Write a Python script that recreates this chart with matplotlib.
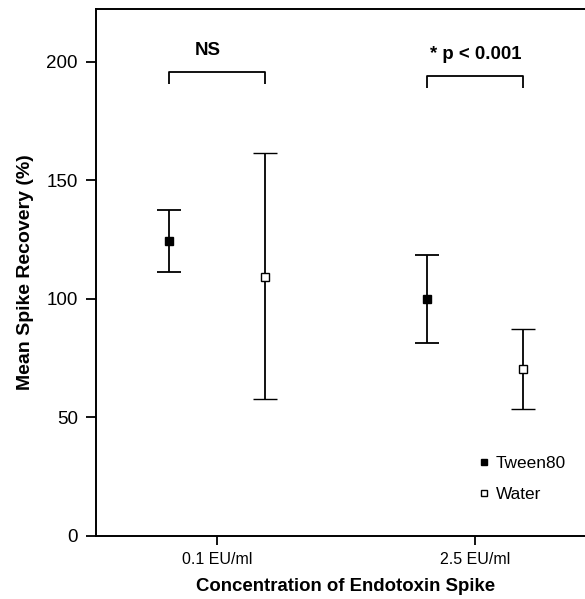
import matplotlib
matplotlib.use('Agg')
import matplotlib.pyplot as plt
from matplotlib.lines import Line2D

# data
categories = ['0.1 EU/ml', '2.5 EU/ml']
tween_mean = [124.5, 100.0]
tween_low = [111.4, 81.4]
tween_high = [137.4, 118.4]
water_mean = [109.3, 70.3]
water_low = [57.7, 53.6]
water_high = [161.3, 87.1]
sig_labels = ['NS', '* p < 0.001']
bracket_top = [195.5, 194.0]

plt.rcParams['font.family'] = ['Liberation Sans', 'DejaVu Sans']

fig = plt.figure(figsize=(5.85, 5.99), dpi=100)
ax = fig.add_axes([0.1641, 0.1057, 0.8547, 0.879])

xpos = [1, 2]
off = 0.185
x_t = [x - off for x in xpos]
x_w = [x + off for x in xpos]

err_t = [[m - lo for m, lo in zip(tween_mean, tween_low)],
         [hi - m for m, hi in zip(tween_mean, tween_high)]]
err_w = [[m - lo for m, lo in zip(water_mean, water_low)],
         [hi - m for m, hi in zip(water_mean, water_high)]]

ax.errorbar(x_t, tween_mean, yerr=err_t, fmt='s', color='black', mfc='black',
            mec='black', ms=5.5, elinewidth=1.3, capsize=8.4, capthick=1.3, zorder=3)
ax.errorbar(x_w, water_mean, yerr=err_w, fmt='s', color='black', mfc='white',
            mec='black', ms=5.5, mew=1.0, elinewidth=1.3, capsize=8.4, capthick=1.3, zorder=3)

# significance brackets
for i in range(len(xpos)):
    top = bracket_top[i]
    ax.plot([x_t[i], x_t[i], x_w[i], x_w[i]], [top - 5, top, top, top - 5],
            color='black', lw=1.3, solid_capstyle='butt')
    ax.text(xpos[i] - 0.035 if i == 0 else xpos[i], top + 9.2, sig_labels[i],
            ha='center', va='center', fontsize=13.4, fontweight='bold')

ax.set_xlim(0.533, 2.467)
ax.set_ylim(0, 222.2)
ax.set_yticks([0, 50, 100, 150, 200])
ax.set_xticks(xpos)
ax.set_xticklabels(categories)

ax.tick_params(axis='y', direction='out', length=7, width=1.3, labelsize=13.5, pad=6)
ax.tick_params(axis='x', direction='out', length=6.5, width=1.3, labelsize=11.5, pad=5)

for s in ['left', 'bottom', 'top']:
    ax.spines[s].set_linewidth(1.4)
ax.spines['right'].set_visible(False)

ax.set_xlabel('Concentration of Endotoxin Spike', fontsize=13.4, fontweight='bold', labelpad=8.5)
ax.set_ylabel('Mean Spike Recovery (%)', fontsize=14, fontweight='bold', labelpad=9)

handles = [
    Line2D([], [], marker='s', ls='none', color='black', mfc='black', ms=5),
    Line2D([], [], marker='s', ls='none', color='black', mfc='white', ms=5, mew=1.0),
]
ax.legend(handles, ['Tween80', 'Water'], loc='upper left', bbox_to_anchor=(0.748, 0.168),
          frameon=False, fontsize=12.4, handlelength=0.6, handletextpad=0.4,
          labelspacing=0.93, borderpad=0)

fig.savefig('out.png', dpi=100)
